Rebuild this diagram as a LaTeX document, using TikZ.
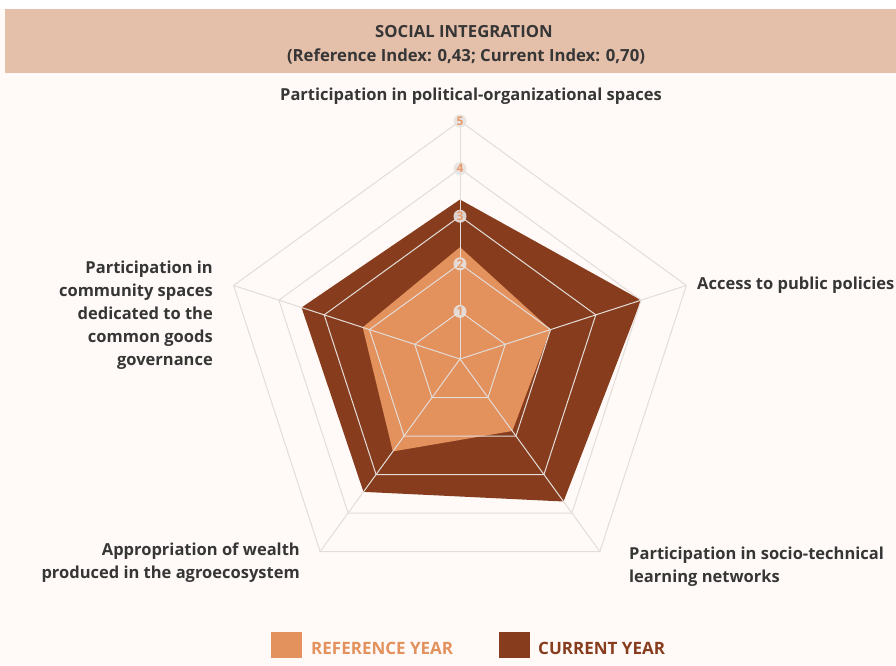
\documentclass[tikz,border=0pt]{standalone}
\usepackage{fontspec}
\setmainfont{Open Sans}
\definecolor{bg}{HTML}{FFFAF7}
\definecolor{band}{HTML}{E4BFA9}
\definecolor{refc}{HTML}{E3915D}
\definecolor{curc}{HTML}{873D1D}
\definecolor{gridc}{HTML}{E3DDD9}
\definecolor{txt}{HTML}{363636}
\definecolor{tickc}{HTML}{E79A6C}
\definecolor{tickbg}{HTML}{E6E4E2}
\begin{document}
\begin{tikzpicture}[x=1pt,y=-1pt,
  lab/.style={font=\bfseries\fontsize{16.5}{23}\selectfont, text=txt, inner sep=0pt},
  ttl/.style={font=\bfseries\fontsize{16.7}{23}\selectfont, text=txt, inner sep=0pt},
  gridline/.style={draw=gridc, line width=1pt, line join=round},
  tickdot/.style={circle, fill=tickbg, fill opacity=0.9, text opacity=1, inner sep=0pt, minimum size=13pt, text=tickc, font=\bfseries\fontsize{12}{12}\selectfont},
  legtxt/.style={font=\bfseries\fontsize{17}{20}\selectfont, inner sep=0pt, anchor=west}]
\useasboundingbox (0,0) rectangle (896,665);
\fill[bg] (0,0) rectangle (896,665);
\fill[white] (0,0) rectangle (896,9);
\fill[band] (5,9) rectangle (896,73);
\node[ttl] (t1) at (464,32) {SOCIAL INTEGRATION};
\node[ttl] (t2) at (466,56) {(Reference Index: 0,43; Current Index: 0,70)};
\node[lab] (aTop) at (471,96) {Participation in political-organizational spaces};
\node[lab, anchor=west] (aR) at (697,285) {Access to public policies};
\node[lab, anchor=east, align=right] (aL) at (213,315) {Participation in\\community spaces\\dedicated to the\\common goods\\governance};
\node[lab, anchor=west, align=left] (aBR) at (629,567) {Participation in socio-technical\\learning networks};
\node[lab, anchor=east, align=right] (aBL) at (300,563) {Appropriation of wealth\\produced in the agroecosystem};
\begin{scope}[shift={(460,359)}]
  \def\u{47.6}
  \fill[curc] (-90:{3.35*\u}) -- (-18:{4.0*\u}) -- (54:{3.7*\u}) -- (126:{3.45*\u}) -- (198:{3.5*\u}) -- cycle;
  \fill[refc] (-90:{2.35*\u}) -- (-18:{2.0*\u}) -- (54:{1.87*\u}) -- (126:{2.4*\u}) -- (198:{2.15*\u}) -- cycle;
  \foreach \r in {1,...,5}
    \draw[gridline] (-90:{\r*\u}) -- (-18:{\r*\u}) -- (54:{\r*\u}) -- (126:{\r*\u}) -- (198:{\r*\u}) -- cycle;
  \foreach \a in {-90,-18,54,126,198}
    \draw[gridline] (0,0) -- (\a:{5*\u});
  \foreach \r in {1,...,5}
    \node[tickdot] (tk\r) at (-90:{\r*\u}) {\r};
\end{scope}
\fill[refc] (271,632) rectangle (302,658);
\node[legtxt, text=refc] (lref) at (311,648) {REFERENCE YEAR};
\fill[curc] (499,632) rectangle (530,658);
\node[legtxt, text=curc] (lcur) at (538,648) {CURRENT YEAR};
\end{tikzpicture}
\end{document}
